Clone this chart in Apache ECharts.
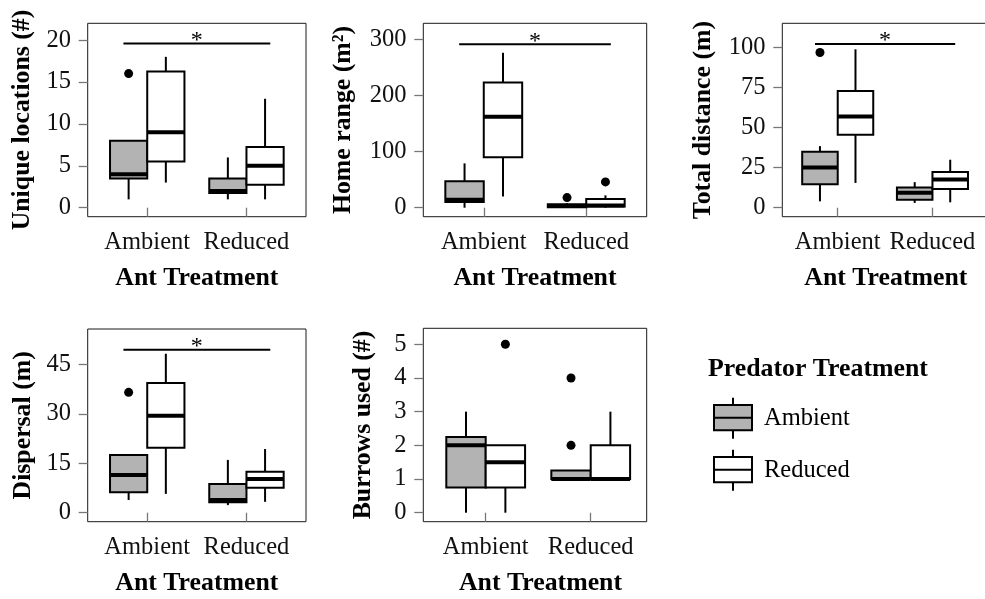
<!DOCTYPE html>
<html>
<head>
<meta charset="utf-8">
<script src="https://cdn.jsdelivr.net/npm/echarts@6/dist/echarts.min.js"></script>
<style>
html,body{margin:0;padding:0;background:#fff;}
#chart{width:985px;height:599px;}
</style>
</head>
<body>
<div id="chart"></div>
<script>
// ---------- data ----------
const antLevels = ['Ambient', 'Reduced'];   // x categories (Ant Treatment)
const predLevels = ['Ambient', 'Reduced'];  // fill groups (Predator Treatment)

// five-number summaries [min, Q1, median, Q3, max], one row per ant treatment
const uniqueAmbientPred = [[1, 3.5, 4, 8, 8], [1, 1.75, 2, 3.5, 6]];
const uniqueReducedPred = [[3, 5.5, 9, 16.25, 18], [1, 2.75, 5, 7.25, 13]];
const uniqueOutliers = [[0, 0, 16]];            // [ant index, predator index, value]
const uniqueSig = 19.6;
const uniqueTicks = [0, 5, 10, 15, 20];

const homeAmbientPred = [[0, 10, 14, 47, 79], [0, 1, 3, 6, 8]];
const homeReducedPred = [[20, 90, 162, 223, 276], [0, 2, 4, 15.5, 22]];
const homeOutliers = [[1, 0, 18], [1, 1, 46]];
const homeSig = 291;
const homeTicks = [0, 100, 200, 300];

const distAmbientPred = [[4, 14.6, 25.2, 35, 38.5], [3, 5, 9.4, 12.7, 16]];
const distReducedPred = [[15.5, 45.6, 57, 73, 99], [3.4, 11.7, 17.7, 22.3, 30]];
const distOutliers = [[0, 0, 97]];
const distSig = 102.3;
const distTicks = [0, 25, 50, 75, 100];

const dispAmbientPred = [[3.85, 6.2, 11.4, 17.5, 17.5], [2.3, 3.15, 3.85, 8.7, 16]];
const dispReducedPred = [[5.7, 19.7, 29.4, 39.3, 48.2], [3.3, 7.6, 10.2, 12.4, 19.3]];
const dispOutliers = [[0, 0, 36.5]];
const dispSig = 49.4;
const dispTicks = [0, 15, 30, 45];

const burAmbientPred = [[0, 0.75, 2, 2.25, 3], [1, 1, 1, 1.25, 1.25]];
const burReducedPred = [[0, 0.75, 1.5, 2, 2], [1, 1, 1, 2, 3]];
const burOutliers = [[0, 1, 5], [1, 0, 4], [1, 0, 2]];
const burSig = null;
const burTicks = [0, 1, 2, 3, 4, 5];

// ---------- layout / style ----------
const FONT = 'Liberation Serif';
const BOX_WIDTH = 0.375;
const SIG_HALF = 0.74;
const fills = ['#b3b3b3', '#ffffff'];

const panels = [
  { title: 'Unique locations (#)', boxes: [uniqueAmbientPred, uniqueReducedPred], outliers: uniqueOutliers, sig: uniqueSig, ticks: uniqueTicks,
    yMin: -1.07, yMax: 22.0, xMin: 0.4, xMax: 2.6, grid: { left: 87.7, top: 23.3, width: 218.3, height: 193.4 }, yGap: 52, xPad: 0 },
  { title: 'Home range (m²)', boxes: [homeAmbientPred, homeReducedPred], outliers: homeOutliers, sig: homeSig, ticks: homeTicks,
    yMin: -16, yMax: 328.5, xMin: 0.41, xMax: 2.59, grid: { left: 423.3, top: 23.3, width: 223.4, height: 193.4 }, yGap: 67, xPad: 0 },
  { title: 'Total distance (m)', boxes: [distAmbientPred, distReducedPred], outliers: distOutliers, sig: distSig, ticks: distTicks,
    yMin: -5.6, yMax: 115.25, xMin: 0.415, xMax: 2.6, grid: { left: 782.3, top: 23.3, width: 207, height: 193.4 }, yGap: 66, xPad: 0 },
  { title: 'Dispersal (m)', boxes: [dispAmbientPred, dispReducedPred], outliers: dispOutliers, sig: dispSig, ticks: dispTicks,
    yMin: -2.73, yMax: 55.7, xMin: 0.4, xMax: 2.6, grid: { left: 87.7, top: 329, width: 218.3, height: 192.7 }, yGap: 51, xPad: 0 },
  { title: 'Burrows used (#)', boxes: [burAmbientPred, burReducedPred], outliers: burOutliers, sig: burSig, ticks: burTicks,
    yMin: -0.267, yMax: 5.475, xMin: 0.406, xMax: 2.533, grid: { left: 423.3, top: 328.3, width: 223.4, height: 193.4 }, yGap: 47, xPad: 11 }
];

function renderBox(params, api) {
  const x = api.value(0);
  const lo = api.value(1), q1 = api.value(2), med = api.value(3), q3 = api.value(4), hi = api.value(5);
  const half = api.size([BOX_WIDTH, 0])[0] / 2;
  const pLo = api.coord([x, lo]), pQ1 = api.coord([x, q1]), pMed = api.coord([x, med]),
        pQ3 = api.coord([x, q3]), pHi = api.coord([x, hi]);
  const fill = api.visual('color');
  return {
    type: 'group',
    children: [
      { type: 'line', shape: { x1: pQ3[0], y1: pQ3[1], x2: pHi[0], y2: pHi[1] }, style: { stroke: '#000', lineWidth: 2 } },
      { type: 'line', shape: { x1: pQ1[0], y1: pQ1[1], x2: pLo[0], y2: pLo[1] }, style: { stroke: '#000', lineWidth: 2 } },
      { type: 'rect', shape: { x: pQ3[0] - half, y: pQ3[1], width: 2 * half, height: pQ1[1] - pQ3[1] },
        style: { fill: fill, stroke: '#000', lineWidth: 2 } },
      { type: 'line', shape: { x1: pMed[0] - half, y1: pMed[1], x2: pMed[0] + half, y2: pMed[1] },
        style: { stroke: '#000', lineWidth: 4 } }
    ]
  };
}

function renderSig(params, api) {
  const mid = api.value(0), y = api.value(1);
  const a = api.coord([mid - SIG_HALF, y]);
  const b = api.coord([mid + SIG_HALF, y]);
  const c = api.coord([mid, y]);
  return {
    type: 'group',
    children: [
      { type: 'line', shape: { x1: a[0], y1: a[1], x2: b[0], y2: b[1] }, style: { stroke: '#000', lineWidth: 2 } },
      { type: 'text', x: c[0], y: c[1] + 9, style: { text: '*', fill: '#000', font: '24px "Liberation Serif"', align: 'center', verticalAlign: 'bottom' } }
    ]
  };
}

const grids = [], xAxes = [], yAxes = [], series = [];
panels.forEach((p, i) => {
  grids.push(Object.assign({ show: true, borderColor: '#1a1a1a', borderWidth: 1, backgroundColor: 'transparent',
    containLabel: false, outerBoundsMode: 'none' }, p.grid));
  xAxes.push({
    gridIndex: i, type: 'value', min: p.xMin, max: p.xMax,
    axisLine: { show: false }, splitLine: { show: false },
    axisTick: { show: true, customValues: [1, 2], length: 9, lineStyle: { color: '#777', width: 1.3 } },
    axisLabel: { customValues: [1, 2], formatter: v => antLevels[Math.round(v) - 1], margin: 13,
      fontFamily: FONT, fontSize: 24.5, color: '#111' },
    name: 'Ant Treatment', nameLocation: 'middle', nameGap: 48.5, nameMoveOverlap: false,
    nameTextStyle: { fontFamily: FONT, fontWeight: 'bold', fontSize: 25.8, color: '#000', padding: [0, 0, 0, p.xPad] }
  });
  yAxes.push({
    gridIndex: i, type: 'value', min: p.yMin, max: p.yMax,
    axisLine: { show: false }, splitLine: { show: false },
    axisTick: { show: true, customValues: p.ticks, length: 9, lineStyle: { color: '#777', width: 1.3 } },
    axisLabel: { customValues: p.ticks, margin: 16.7, fontFamily: FONT, fontSize: 24.5, color: '#111' },
    name: p.title, nameLocation: 'middle', nameGap: p.yGap, nameMoveOverlap: false,
    nameTextStyle: { fontFamily: FONT, fontWeight: 'bold', fontSize: 25.8, color: '#000' }
  });
  p.boxes.forEach((rows, pred) => {
    series.push({
      type: 'custom', name: predLevels[pred], xAxisIndex: i, yAxisIndex: i,
      itemStyle: { color: fills[pred] },
      renderItem: renderBox,
      encode: { x: 0, y: [1, 2, 3, 4, 5] },
      data: rows.map((s, ant) => [ant + 1 + (pred - 0.5) * BOX_WIDTH].concat(s)),
      z: 2
    });
  });
  series.push({
    type: 'scatter', name: 'outliers' + i, xAxisIndex: i, yAxisIndex: i,
    symbol: 'circle', symbolSize: 9, itemStyle: { color: '#000', opacity: 1 },
    data: p.outliers.map(([ant, pred, v]) => [ant + 1 + (pred - 0.5) * BOX_WIDTH, v]),
    z: 3
  });
  if (p.sig !== null) {
    series.push({
      type: 'custom', name: 'sig' + i, xAxisIndex: i, yAxisIndex: i,
      renderItem: renderSig, encode: { x: 0, y: 1 },
      data: [[(1 + antLevels.length) / 2, p.sig]], z: 3
    });
  }
});

const iconPath = 'path://M19,0V7.3M0,7.3H38V32.6H0ZM0,20H38M19,32.6V41';

const option = {
  animation: false,
  backgroundColor: '#fff',
  title: {
    text: 'Predator Treatment', left: 708, top: 356, padding: 0,
    textStyle: { fontFamily: FONT, fontWeight: 'bold', fontSize: 25.8, color: '#000' }
  },
  legend: {
    orient: 'vertical', left: 713, top: 396.7, padding: 0, itemGap: 9,
    itemWidth: 38, itemHeight: 41, selectedMode: false,
    textStyle: { fontFamily: FONT, fontSize: 24.5, color: '#000', padding: [0, 0, 0, 7] },
    data: [
      { name: 'Ambient', icon: iconPath, itemStyle: { color: fills[0], borderColor: '#000', borderWidth: 2 } },
      { name: 'Reduced', icon: iconPath, itemStyle: { color: fills[1], borderColor: '#000', borderWidth: 2 } }
    ]
  },
  grid: grids, xAxis: xAxes, yAxis: yAxes, series: series
};

const chart = echarts.init(document.getElementById('chart'), null, { renderer: 'canvas' });
chart.setOption(option);
</script>
</body>
</html>
